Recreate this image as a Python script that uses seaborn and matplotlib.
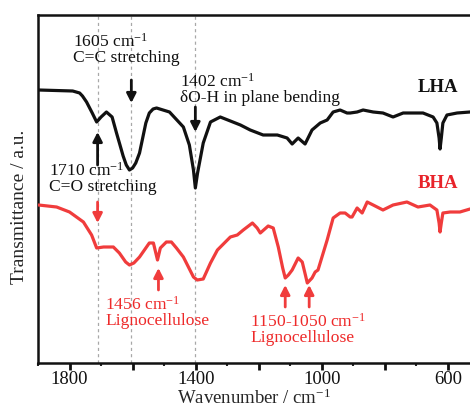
import numpy as np
import pandas as pd
import matplotlib
matplotlib.use("Agg")
import matplotlib.pyplot as plt
import seaborn as sns

# FTIR spectra (wavenumber in cm-1, transmittance in arbitrary offset units)
lha_wn = [1898, 1790, 1768, 1759, 1746, 1728, 1714, 1700, 1683, 1665, 1651, 1640, 1630,
          1620, 1610, 1600, 1590, 1578, 1568, 1558, 1547, 1535, 1524, 1483, 1439, 1420,
          1407, 1401, 1394, 1376, 1353, 1322, 1258, 1227, 1186, 1141, 1110, 1094, 1075,
          1053, 1031, 1005, 983, 964, 942, 920, 910, 888, 869, 837, 806, 774, 742, 679,
          647, 635, 628, 625, 621, 616, 603, 571, 530]
lha_t = [273, 272, 270, 267, 261, 250, 241, 246, 251, 246, 230, 218, 207,
         198, 193, 195, 200, 210, 225, 240, 250, 254, 255, 251, 236, 218,
         193, 175, 190, 220, 241, 246, 238, 233, 228, 228, 225, 219, 225,
         219, 233, 240, 243, 251, 253, 250, 250, 251, 253, 251, 250, 246, 250, 250,
         246, 240, 225, 214, 225, 240, 248, 250, 251]

bha_wn = [1898, 1841, 1800, 1756, 1730, 1714, 1692, 1661, 1642, 1622, 1610, 1596,
          1578, 1547, 1534, 1521, 1512, 1493, 1477, 1461, 1439, 1407, 1395, 1376,
          1353, 1331, 1290, 1268, 1249, 1220, 1205, 1195, 1170, 1154, 1138, 1124,
          1116, 1106, 1094, 1075, 1062, 1052, 1046, 1040, 1031, 1021, 1012, 983, 964,
          942, 926, 910, 904, 888, 872, 856, 837, 806, 774, 730, 695, 657, 635, 628,
          625, 621, 616, 593, 562, 530]
bha_t = [158, 156, 151, 141, 128, 115, 116, 116, 110, 101, 98, 100,
         106, 120, 120, 103, 115, 121, 121, 115, 106, 86, 83, 84,
         100, 113, 126, 128, 133, 140, 135, 130, 137, 135, 116, 95,
         85, 88, 93, 105, 101, 88, 80, 82, 85, 91, 93, 123, 145,
         150, 150, 146, 146, 155, 150, 161, 158, 153, 158, 161, 156, 158, 153, 140,
         131, 140, 150, 151, 151, 154]

tick_values = [1800, 1600, 1400, 1200, 1000, 800, 600]
tick_labels = ["1800", "", "1400", "", "1000", "", "600"]
marker_lines = [1710, 1605, 1402]

BLACK = "#111111"
RED = "#f03c3c"
RED_TXT = "#ee2a2a"

sns.set_style("ticks")
plt.rcParams["font.family"] = ["Liberation Serif", "DejaVu Serif"]
plt.rcParams["mathtext.fontset"] = "custom"
plt.rcParams["mathtext.rm"] = "Liberation Serif"
plt.rcParams["mathtext.it"] = "Liberation Serif:italic"
plt.rcParams["mathtext.bf"] = "Liberation Serif:bold"

fig = plt.figure(figsize=(4.70, 4.09), dpi=100)
ax = fig.add_axes([38 / 470, 46 / 409, 1 - 38 / 470, 348 / 409])

df = pd.concat([
    pd.DataFrame({"wn": lha_wn, "t": lha_t, "sample": "LHA"}),
    pd.DataFrame({"wn": bha_wn, "t": bha_t, "sample": "BHA"}),
])
sns.lineplot(data=df, x="wn", y="t", hue="sample", palette={"LHA": BLACK, "BHA": RED},
             estimator=None, sort=False, lw=2.3, legend=False, ax=ax, zorder=3,
             solid_joinstyle="round", solid_capstyle="round")

for wn in marker_lines:
    ax.axvline(wn, color="#a8a8a8", lw=0.9, ls=(0, (2.5, 2.5)), zorder=1)

ax.set_xlim(1898, 530)
ax.set_ylim(0, 348)
ax.set_xticks(tick_values)
ax.set_xticklabels(tick_labels)
ax.set_xticks(np.arange(1900, 500, -100), minor=True)
ax.tick_params(axis="x", which="major", direction="out", length=5, width=2,
               labelsize=13.5, pad=1, colors=BLACK)
ax.tick_params(axis="x", which="minor", direction="out", length=2.5, width=1.5)
ax.set_yticks([])
for side in ("left", "top", "bottom"):
    ax.spines[side].set_linewidth(1.8)
    ax.spines[side].set_color(BLACK)
ax.spines["right"].set_visible(False)

ax.set_xlabel(r"Wavenumber / cm$^{\mathregular{-1}}$", fontsize=13.5, labelpad=0)
ax.set_ylabel("Transmittance / a.u.", fontsize=14)
ax.yaxis.set_label_coords(-0.022, 0.45)

cm = r" cm$^{\mathregular{-1}}$"
txt = dict(fontsize=12.6, linespacing=0.95, va="top", ha="left")
ax.text(1790, 330, "1605" + cm + "\nC=C stretching", color=BLACK, **txt)
ax.text(1449, 290, "1402" + cm + "\nδO-H in plane bending", color=BLACK, **txt)
ax.text(1866, 201, "1710" + cm + "\nC=O stretching", color=BLACK, **txt)
ax.text(1686, 67, "1456" + cm + "\nLignocellulose", color=RED_TXT, **txt)
ax.text(1227, 50, "1150-1050" + cm + "\nLignocellulose", color=RED_TXT, **txt)

ax.text(695, 271, "LHA", color=BLACK, fontsize=13.5, fontweight="bold", va="baseline")
ax.text(695, 175, "BHA", color="#e8232a", fontsize=13.5, fontweight="bold", va="baseline")

def arrow(x, y_tail, y_head, color):
    ax.annotate("", xy=(x, y_head), xytext=(x, y_tail),
                arrowprops=dict(arrowstyle="-|>,head_length=0.55,head_width=0.28",
                                color=color, lw=2, shrinkA=0, shrinkB=0), zorder=4)

arrow(1604, 283, 260, BLACK)
arrow(1401, 256, 231, BLACK)
arrow(1711, 198, 231, BLACK)
arrow(1711, 161, 140, RED)
arrow(1518, 73, 95, RED)
arrow(1116, 56, 78, RED)
arrow(1040, 56, 78, RED)

fig.savefig("out.png", dpi=100)
